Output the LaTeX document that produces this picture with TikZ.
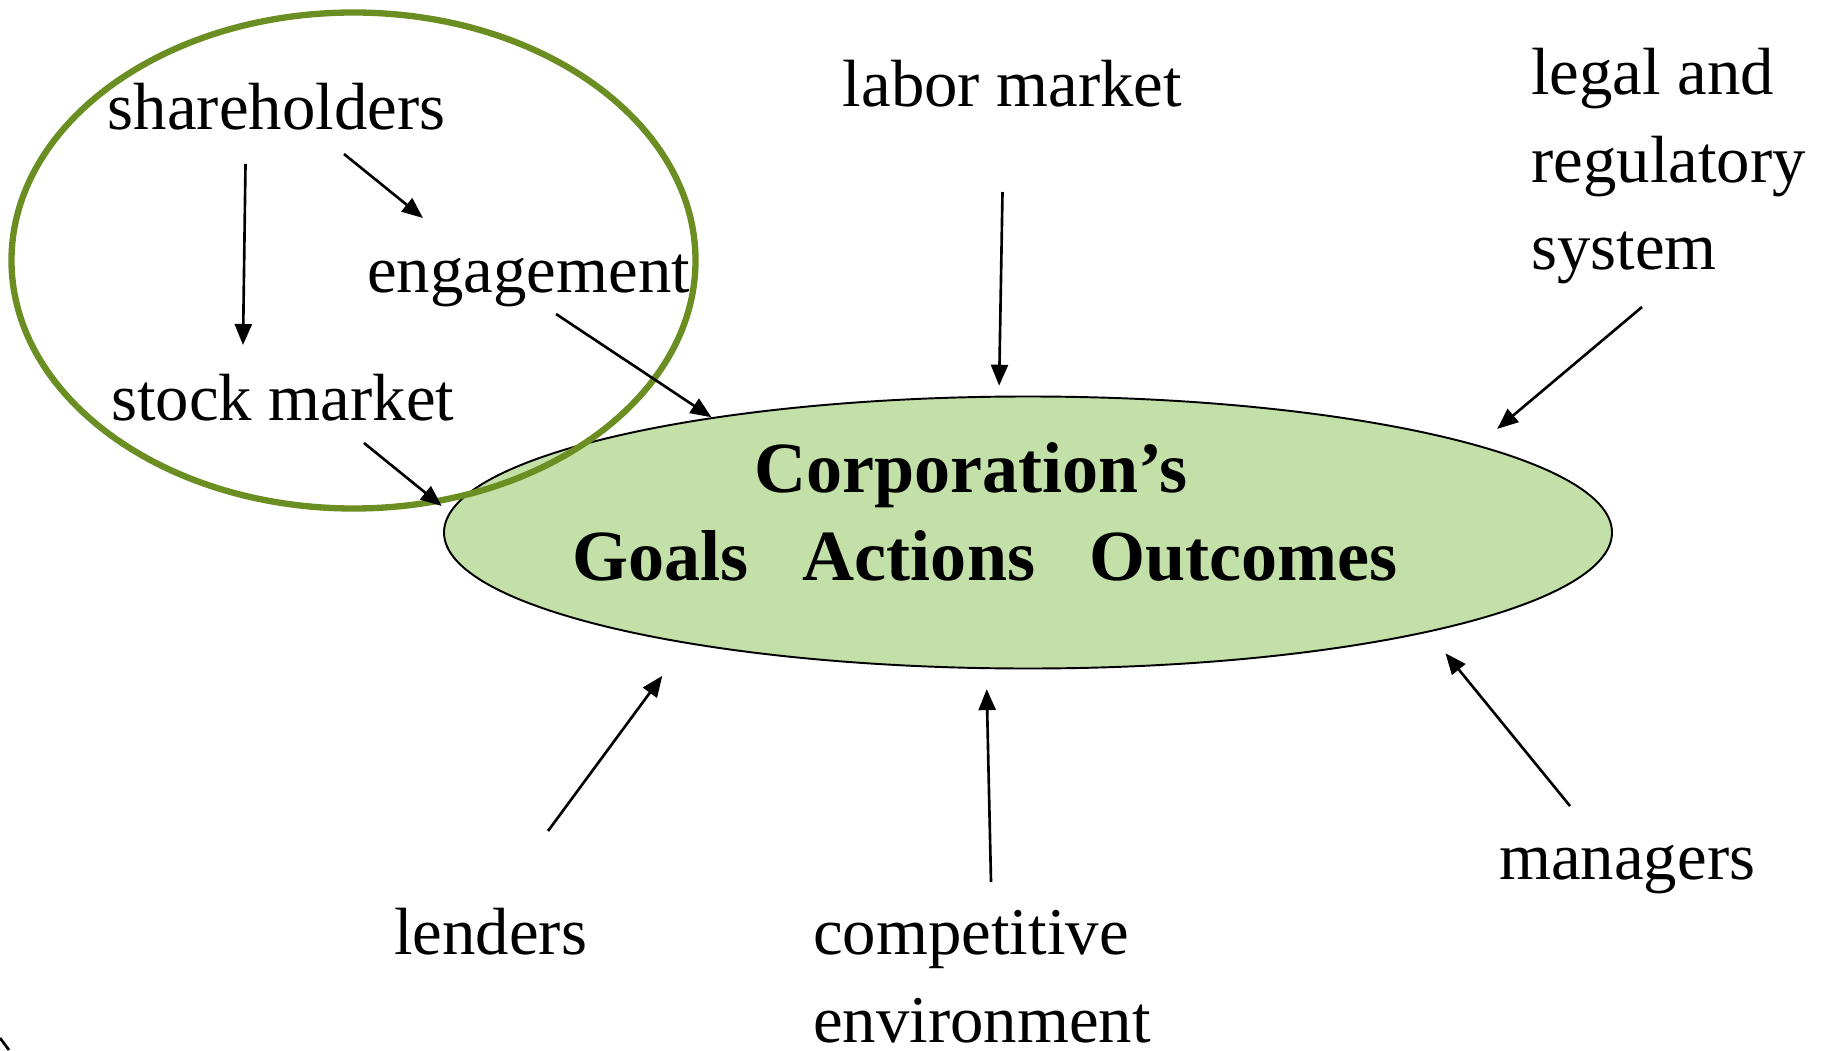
\documentclass[tikz,border=0pt]{standalone}
\usepackage{fontspec}
\setmainfont{Liberation Serif}
\usetikzlibrary{arrows.meta,shapes.geometric}
\definecolor{hubfill}{RGB}{194,224,168}
\definecolor{ringgreen}{RGB}{107,142,35}
\newcommand{\Lead}{25pt}
\tikzset{Label/.style={
    inner sep=0pt,
    anchor=base west,
    align=left,
    font=\fontsize{19}{\Lead}\selectfont,
    }
}

\begin{document}
\begin{tikzpicture}[line width=0.75pt,
    arr/.style={-{Triangle[length=2.1mm,width=1.7mm]}},
    hub/.style={ellipse, draw=black, line width=0.55pt, fill=hubfill,
        minimum width=11.68cm, minimum height=2.72cm, inner sep=0pt},
    ring/.style={ellipse, draw=ringgreen, line width=1.8pt,
        minimum width=6.84cm, minimum height=4.96cm, inner sep=0pt},
]
\useasboundingbox (0,0) rectangle (18.25,10.5);
% the corporation in the middle (base sits on the last line)
\node [hub] (corp) at (10.28,5.175) {};
\node [font=\fontsize{20.5}{\Lead}\selectfont\bfseries, align=center, anchor=base, inner sep=0pt]
    (goals) at (9.85,4.70) {\hspace*{-2.8mm}Corporation’s\\Goals~~~Actions~~~Outcomes};
% owners circled together
\node [ring] (owners) at (3.535,7.895) {};
\node [Label] (holders) at (1.065,9.20) {shareholders};
\node [Label] (engage) at (3.66,7.57) {engagement};
\node [Label] (stock) at (1.10,6.30) {stock market};
% the other forces
\node [Label] (labor) at (8.415,9.43) {labor market};
\node [Label] (legal) at (15.30,7.80) {legal and\\regulatory\\system};
\node [Label] (lenders) at (3.93,0.96) {lenders};
\node [Label] (compet) at (8.12,0.08) {competitive\\environment};
\node [Label] (managers) at (14.98,1.71) {managers};

\draw [arr] ([shift={(1.39,-0.34)}]holders.base west) -- ([shift={(1.33,0.75)}]stock.base west);
\draw [arr] ([shift={(2.375,-0.24)}]holders.base west) -- ([shift={(0.57,0.75)}]engage.base west);
\draw [arr] ([shift={(1.90,-0.21)}]engage.base west) -- (corp.160);
\draw [arr, shorten >=1mm] ([shift={(2.54,-0.23)}]stock.base west) -- (corp.178);
\draw [arr, shorten >=1mm] ([shift={(1.61,-0.85)}]labor.base west) -- (corp.102);
\draw [arr, shorten >=2.5mm] ([shift={(1.12,-0.37)}]legal.base west) -- (corp.11);
\draw [arr, shorten >=4mm] ([shift={(1.55,1.23)}]lenders.base west) -- (corp.198);
\draw [arr, shorten >=2mm] ([shift={(1.79,1.60)}]compet.base west) -- (corp.253);
\draw [arr, shorten >=2.7mm] ([shift={(0.72,0.73)}]managers.base west) -- (corp.346);

% stray stroke in the corner
\draw (0,0.12) -- (0.09,0);
\end{tikzpicture}
\end{document}
